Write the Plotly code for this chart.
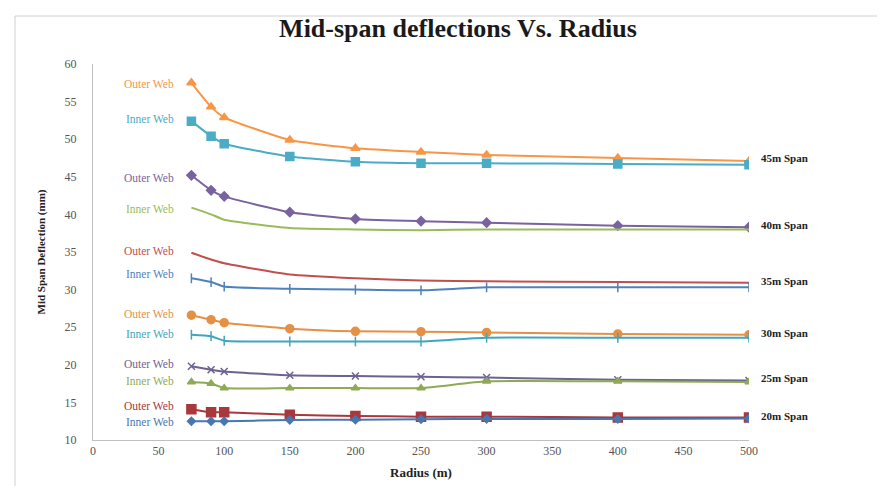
import plotly.graph_objects as go

radius = [75, 90, 100, 150, 200, 250, 300, 400, 500]

outer_45 = [57.5, 54.3, 52.9, 49.9, 48.8, 48.3, 47.9, 47.5, 47.1]
inner_45 = [52.4, 50.4, 49.4, 47.7, 47.0, 46.8, 46.8, 46.7, 46.6]
outer_40 = [45.2, 43.2, 42.4, 40.3, 39.4, 39.1, 38.9, 38.5, 38.3]
inner_40 = [40.9, 40.0, 39.3, 38.2, 38.0, 37.9, 38.0, 38.0, 38.0]
outer_35 = [34.9, 34.0, 33.5, 32.0, 31.5, 31.2, 31.1, 31.0, 30.9]
inner_35 = [31.5, 31.0, 30.4, 30.1, 30.0, 29.9, 30.3, 30.3, 30.3]
outer_30 = [26.6, 26.0, 25.6, 24.8, 24.45, 24.4, 24.3, 24.1, 24.0]
inner_30 = [24.0, 23.8, 23.2, 23.1, 23.1, 23.1, 23.6, 23.6, 23.6]
outer_25 = [19.8, 19.35, 19.1, 18.6, 18.5, 18.4, 18.3, 18.0, 17.9]
inner_25 = [17.7, 17.5, 16.9, 16.9, 16.9, 16.9, 17.8, 17.8, 17.7]
outer_20 = [14.1, 13.7, 13.7, 13.35, 13.2, 13.1, 13.1, 13.0, 13.0]
inner_20 = [12.5, 12.5, 12.5, 12.65, 12.7, 12.75, 12.8, 12.8, 12.85]

web_label_y = [57.3, 52.7, 44.9, 40.7, 35.2, 32.1, 26.7, 24.1, 20.1, 17.8, 14.5, 12.4]

span_labels = ["45m Span", "40m Span", "35m Span", "30m Span", "25m Span", "20m Span"]
span_label_y = [47.5, 38.6, 31.1, 24.2, 18.2, 13.15]

series = [
    ("Outer Web", outer_45, "#F79646", "triangle-up", 8),
    ("Inner Web", inner_45, "#4BACC6", "square", 8),
    ("Outer Web", outer_40, "#7A62A0", "diamond", 7),
    ("Inner Web", inner_40, "#9BBB59", None, 0),
    ("Outer Web", outer_35, "#C0504D", None, 0),
    ("Inner Web", inner_35, "#4F81BD", "line-ns", 7),
    ("Outer Web", outer_30, "#E59045", "circle", 8),
    ("Inner Web", inner_30, "#3FA6C0", "line-ns", 7),
    ("Outer Web", outer_25, "#6E6290", "x-thin", 7),
    ("Inner Web", inner_25, "#8FAA55", "triangle-up", 7),
    ("Outer Web", outer_20, "#A8383C", "square", 9),
    ("Inner Web", inner_20, "#4877B0", "diamond", 6),
]

SERIF = "Liberation Serif, Times New Roman, serif"

# plot area: x 85..741 px, y 56..432 px
def px2paper_x(px):
    return (px - 85) / 656.0

def px2paper_y(py):
    return (432 - py) / 376.0

fig = go.Figure()
annotations = []
for (name, ys, color, sym, size), ly in zip(series, web_label_y):
    mode = "lines+markers" if sym else "lines"
    marker = dict(symbol=sym, size=size, color=color,
                  line=dict(color=color, width=1.5)) if sym else None
    fig.add_trace(go.Scatter(
        x=radius, y=ys, mode=mode, name=name,
        line=dict(color=color, width=2, shape="spline", smoothing=0.5),
        marker=marker, showlegend=False,
    ))
    annotations.append(dict(
        x=px2paper_x(168), y=ly, xref="paper", yref="y", text=name,
        showarrow=False, xanchor="right", yanchor="middle",
        font=dict(family=SERIF, size=11.5, color=color),
    ))

for lab, yv in zip(span_labels, span_label_y):
    annotations.append(dict(
        x=px2paper_x(751), y=yv, xref="paper", yref="y", text="<b>" + lab + "</b>",
        showarrow=False, xanchor="left", yanchor="middle",
        font=dict(family=SERIF, size=11, color="#222222"),
    ))

fig.update_layout(
    width=885, height=486,
    margin=dict(l=85, r=144, t=56, b=54),
    paper_bgcolor="white", plot_bgcolor="white",
    title=dict(text="<b>Mid-span deflections Vs. Radius</b>", x=450 / 885,
               xanchor="center", y=1 - 20 / 486, yanchor="middle",
               font=dict(family=SERIF, size=26, color="#1a1a1a")),
    xaxis=dict(range=[0, 500], dtick=50, tick0=0, showgrid=False, zeroline=False,
               showline=True, linecolor="#BFBFBF", linewidth=1, ticks="",
               tickfont=dict(family=SERIF, size=12, color="#555555"),
               title=dict(text="<b>Radius (m)</b>", standoff=10,
                          font=dict(family=SERIF, size=13, color="#222222"))),
    yaxis=dict(range=[10, 60], dtick=5, tick0=10, showgrid=False, zeroline=False,
               showline=True, linecolor="#BFBFBF", linewidth=1, ticks="",
               ticklabelstandoff=13,
               tickfont=dict(family=SERIF, size=12, color="#555555"),
               title=dict(text="<b>Mid Span Deflection (mm)</b>", standoff=16,
                          font=dict(family=SERIF, size=11, color="#222222"))),
    annotations=annotations,
    shapes=[dict(type="rect", xref="paper", yref="paper",
                 x0=px2paper_x(7), x1=px2paper_x(879),
                 y0=px2paper_y(482), y1=px2paper_y(8),
                 line=dict(color="#D0D0D0", width=1), layer="below")],
)

fig.write_html("out.html")
